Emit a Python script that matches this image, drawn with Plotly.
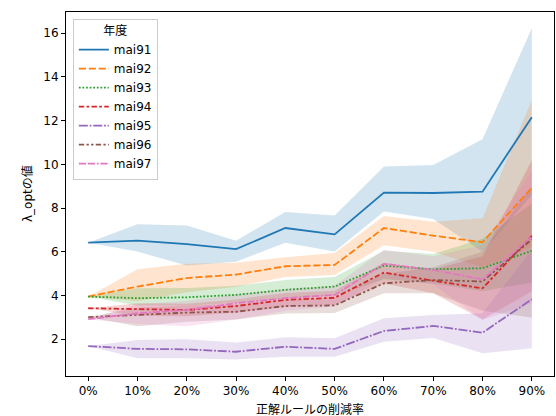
import plotly.graph_objects as go

x_labels = ["0%", "10%", "20%", "30%", "40%", "50%", "60%", "70%", "80%", "90%"]
series_names = ["mai91", "mai92", "mai93", "mai94", "mai95", "mai96", "mai97"]

mai91_mean = [6.42, 6.51, 6.35, 6.12, 7.09, 6.80, 8.71, 8.69, 8.75, 12.16]
mai91_lo = [6.42, 6.01, 5.37, 5.55, 6.42, 6.01, 7.84, 7.50, 6.00, 8.60]
mai91_hi = [6.42, 7.26, 7.20, 6.51, 7.82, 7.66, 9.90, 9.97, 11.15, 16.23]

mai92_mean = [3.95, 4.41, 4.80, 4.96, 5.34, 5.40, 7.09, 6.74, 6.44, 8.93]
mai92_lo = [3.95, 3.75, 4.15, 4.40, 4.85, 4.94, 6.30, 6.00, 5.30, 6.20]
mai92_hi = [3.95, 5.20, 5.45, 5.50, 5.75, 5.95, 7.64, 7.38, 7.54, 12.95]

mai93_mean = [3.95, 3.88, 3.92, 4.03, 4.26, 4.41, 5.37, 5.20, 5.25, 6.05]
mai93_lo = [3.95, 3.55, 3.55, 3.65, 3.85, 3.98, 4.75, 4.55, 4.20, 4.60]
mai93_hi = [3.95, 4.33, 4.35, 4.45, 4.71, 4.85, 6.05, 5.90, 6.60, 8.20]

mai94_mean = [3.42, 3.37, 3.34, 3.52, 3.80, 3.90, 5.05, 4.68, 4.33, 6.73]
mai94_lo = [3.42, 3.08, 3.05, 3.22, 3.48, 3.58, 4.55, 4.10, 2.90, 4.20]
mai94_hi = [3.42, 3.65, 3.62, 3.82, 4.12, 4.22, 5.50, 5.20, 5.80, 10.20]

mai95_mean = [1.69, 1.56, 1.54, 1.43, 1.66, 1.56, 2.38, 2.61, 2.30, 3.83]
mai95_lo = [1.69, 1.13, 1.13, 1.08, 1.20, 1.20, 1.89, 2.06, 1.36, 1.59]
mai95_hi = [1.69, 1.97, 2.00, 1.85, 2.09, 2.05, 2.96, 3.11, 3.19, 6.10]

mai96_mean = [3.01, 3.11, 3.22, 3.26, 3.52, 3.55, 4.56, 4.71, 4.64, 6.57]
mai96_lo = [3.01, 2.60, 2.80, 2.90, 3.18, 3.20, 4.10, 4.10, 3.30, 3.00]
mai96_hi = [3.01, 3.45, 3.55, 3.60, 3.85, 3.90, 5.00, 5.30, 6.00, 9.00]

mai97_mean = [2.92, 3.19, 3.34, 3.65, 3.88, 4.03, 5.45, 5.17, 4.74, 6.70]
mai97_lo = [2.92, 2.70, 2.60, 2.90, 3.30, 3.50, 4.80, 4.50, 2.88, 3.65]
mai97_hi = [2.92, 3.60, 3.75, 4.05, 4.30, 4.45, 6.10, 5.80, 6.30, 9.70]

y_ticks = [2, 4, 6, 8, 10, 12, 14, 16]

means = [mai91_mean, mai92_mean, mai93_mean, mai94_mean, mai95_mean, mai96_mean, mai97_mean]
los = [mai91_lo, mai92_lo, mai93_lo, mai94_lo, mai95_lo, mai96_lo, mai97_lo]
his = [mai91_hi, mai92_hi, mai93_hi, mai94_hi, mai95_hi, mai96_hi, mai97_hi]

colors = ["#1f77b4", "#ff7f0e", "#2ca02c", "#d62728", "#9467bd", "#8c564b", "#e377c2"]
dashes = [
    "solid",
    "7.2px,2.7px",
    "1.8px,1.8px",
    "5.4px,2.3px,2.7px,2.3px",
    "9px,1.8px,1.8px,1.8px",
    "5.4px,2.3px,2.3px,2.3px,2.3px,2.3px",
    "7.2px,1.8px,7.2px,1.8px,1.8px,1.8px",
]

def rgba(hex_color, a):
    h = hex_color.lstrip("#")
    r, g, b = int(h[0:2], 16), int(h[2:4], 16), int(h[4:6], 16)
    return f"rgba({r},{g},{b},{a})"

FONT = "DejaVu Sans, Noto Sans CJK JP, sans-serif"
fig = go.Figure()

idx = list(range(len(x_labels)))
for name, lo, hi, c in zip(series_names, los, his, colors):
    fig.add_trace(go.Scatter(
        x=idx + idx[::-1], y=hi + lo[::-1], fill="toself",
        fillcolor=rgba(c, 0.2), line=dict(width=0), mode="lines",
        hoverinfo="skip", showlegend=False,
    ))

for name, m, c, d in zip(series_names, means, colors, dashes):
    fig.add_trace(go.Scatter(
        x=idx, y=m, mode="lines", name=name,
        line=dict(color=c, width=1.8, dash=d),
    ))

fig.update_layout(
    width=556, height=416,
    margin=dict(l=66, r=2, t=12, b=40, autoexpand=False),
    plot_bgcolor="white", paper_bgcolor="white",
    font=dict(family=FONT, size=12, color="black"),
    showlegend=True,
    legend=dict(
        title=dict(text="年度", side="top center", font=dict(size=12)),
        x=0.014, y=0.982, xanchor="left", yanchor="top",
        bgcolor="rgba(255,255,255,0.8)", bordercolor="#cccccc", borderwidth=1,
        font=dict(size=12), tracegroupgap=0, itemwidth=30,
    ),
    annotations=[
        dict(text="正解ルールの削減率", xref="paper", yref="paper", x=0.5, y=-0.0907,
             xanchor="center", yanchor="middle", showarrow=False, font=dict(size=12)),
        dict(text="λ_optの値", xref="paper", yref="paper", x=-0.0799, y=0.5,
             xanchor="center", yanchor="middle", showarrow=False, textangle=-90,
             font=dict(size=12)),
    ],
)
fig.update_xaxes(
    range=[-0.45, 9.45], tickmode="array", tickvals=idx, ticktext=x_labels,
    showgrid=False, zeroline=False, showline=True, linecolor="black", linewidth=1,
    mirror=True, ticks="outside", ticklen=4, tickcolor="black", automargin=False,
)
fig.update_yaxes(
    range=[0.32, 16.97], tickvals=y_ticks,
    showgrid=False, zeroline=False, showline=True, linecolor="black", linewidth=1,
    mirror=True, ticks="outside", ticklen=4, tickcolor="black", automargin=False,
)

fig.write_html("out.html", config={"displayModeBar": False},
               post_script="document.body.style.margin='0';")
